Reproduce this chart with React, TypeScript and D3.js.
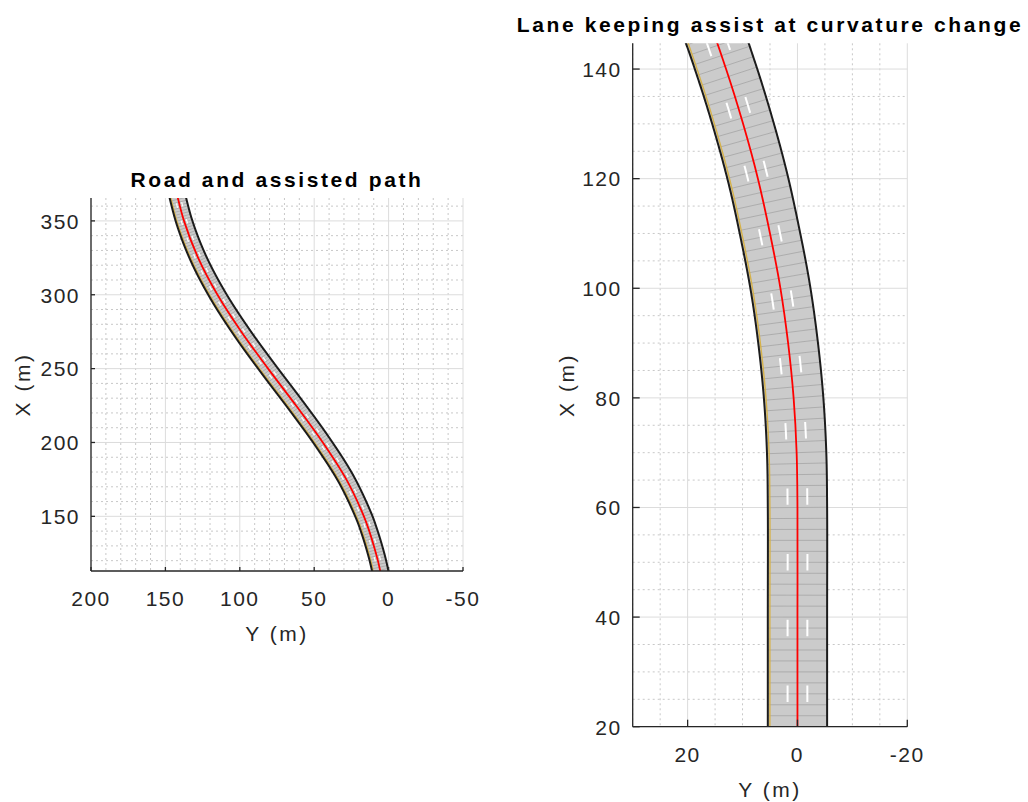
import React, { useEffect, useRef } from "react";
import * as d3 from "d3";

// Road centre line waypoints (X forward, Y left), metres
const roadX = [0, 20, 40, 60, 70, 80, 90, 100, 110, 120, 130, 140, 150, 175, 200, 225, 250, 275, 300, 325, 350, 375];
const roadY = [0, 0, 0, 0, 0.15, 0.7, 1.7, 3.1, 5.0, 7.2, 9.9, 13.0, 16.6, 28.4, 44.2, 62.2, 81.0, 99.0, 115.0, 128.0, 137.5, 143.8];

// Assisted path (red)
const pathX = [0, 20, 40, 60, 70, 80, 90, 100, 110, 120, 130, 140, 150, 175, 200, 225, 250, 275, 300, 325, 350, 375];
const pathY = [0, 0, 0, 0, 0.15, 0.7, 1.7, 3.1, 5.0, 7.2, 9.9, 13.0, 16.6, 28.4, 44.2, 62.2, 81.0, 99.0, 115.0, 128.0, 137.5, 143.8];

// lane geometry (m)
const roadHalfWidth = 5.4;
const laneDividers = [1.8, -1.8];
const dashOn = 3;
const dashPeriod = 12;
const dashStart = 0.5;
const stripeSpacing = 2;

const leftHTicks = [200, 150, 100, 50, 0, -50];
const leftVTicks = [150, 200, 250, 300, 350];
const rightHTicks = [20, 0, -20];
const rightVTicks = [20, 40, 60, 80, 100, 120, 140];

const titles = ["Road and assisted path", "Lane keeping assist at curvature change"];
const hLabel = "Y (m)";
const vLabel = "X (m)";

const FONT = "'Liberation Sans', Arial, Helvetica, sans-serif";

type Pt = { s: number; X: number; Y: number; tX: number; tY: number };

export default function App() {
  const ref = useRef<SVGSVGElement>(null);

  useEffect(() => {
    const svg = d3.select(ref.current!);
    svg.selectAll("*").remove();

    // resample the road centre line (catmull-rom through read waypoints)
    const wp: [number, number][] = roadX.map((x, i) => [x, roadY[i]]);
    const tmp = svg
      .append("path")
      .attr("d", d3.line().curve(d3.curveCatmullRom.alpha(0.5))(wp) as string)
      .attr("fill", "none")
      .attr("visibility", "hidden");
    const node = tmp.node() as SVGPathElement;
    const L = node.getTotalLength();
    const dense: Pt[] = [];
    for (let s = 0; s <= L; s += 0.25) {
      const p = node.getPointAtLength(s);
      dense.push({ s, X: p.x, Y: p.y, tX: 1, tY: 0 });
    }
    tmp.remove();
    dense.forEach((d, i) => {
      const a = dense[Math.max(0, i - 2)];
      const b = dense[Math.min(dense.length - 1, i + 2)];
      const dx = b.X - a.X, dy = b.Y - a.Y;
      const n = Math.hypot(dx, dy) || 1;
      d.tX = dx / n;
      d.tY = dy / n;
    });
    const off = (d: Pt, o: number): [number, number] => [d.X - o * d.tY, d.Y + o * d.tX];

    const panels = [
      {
        id: "p0",
        hDomain: [200, -50], hRange: [91, 463],
        vDomain: [113, 365.5], vRange: [571, 198],
        hTicks: leftHTicks, vTicks: leftVTicks,
        minorStep: 10, tickLen: 4, dashW: 1.2,
        title: titles[0], titleY: 187,
        xLabelX: 23, yellowOff: 0.8,
      },
      {
        id: "p1",
        hDomain: [30, -20], hRange: [632.7, 907.3],
        vDomain: [20, 144.7], vRange: [726.7, 43.3],
        hTicks: rightHTicks, vTicks: rightVTicks,
        minorStep: 5, tickLen: 7, dashW: 2,
        title: titles[1], titleY: 32,
        xLabelX: 567, yellowOff: 0.38,
      },
    ];

    const defs = svg.append("defs");

    panels.forEach((P) => {
      const hs = d3.scaleLinear().domain(P.hDomain).range(P.hRange);
      const vs = d3.scaleLinear().domain(P.vDomain).range(P.vRange);
      const x0 = P.hRange[0], x1 = P.hRange[1], yTop = P.vRange[1], yBot = P.vRange[0];
      const g = svg.append("g");

      defs.append("clipPath").attr("id", "clip" + P.id)
        .append("rect").attr("x", x0).attr("y", yTop).attr("width", x1 - x0).attr("height", yBot - yTop);

      // minor grid
      const hMin = Math.min(...P.hDomain), hMax = Math.max(...P.hDomain);
      const vMin = P.vDomain[0], vMax = P.vDomain[1];
      const hMinor = d3.range(Math.ceil(hMin / P.minorStep) * P.minorStep, hMax + 0.001, P.minorStep)
        .filter((v) => !P.hTicks.includes(v));
      const vMinor = d3.range(Math.ceil(vMin / P.minorStep) * P.minorStep, vMax + 0.001, P.minorStep)
        .filter((v) => !P.vTicks.includes(v));
      const grid = g.append("g");
      grid.selectAll("line.hm").data(hMinor).join("line")
        .attr("x1", (d) => hs(d)).attr("x2", (d) => hs(d)).attr("y1", yTop).attr("y2", yBot)
        .attr("stroke", "#c8c8c8").attr("stroke-width", 1).attr("stroke-dasharray", "2,3");
      grid.selectAll("line.vm").data(vMinor).join("line")
        .attr("y1", (d) => vs(d)).attr("y2", (d) => vs(d)).attr("x1", x0).attr("x2", x1)
        .attr("stroke", "#c8c8c8").attr("stroke-width", 1).attr("stroke-dasharray", "2,3");
      grid.selectAll("line.hM").data(P.hTicks).join("line")
        .attr("x1", (d) => hs(d)).attr("x2", (d) => hs(d)).attr("y1", yTop).attr("y2", yBot)
        .attr("stroke", "#dcdcdc").attr("stroke-width", 1);
      grid.selectAll("line.vM").data(P.vTicks).join("line")
        .attr("y1", (d) => vs(d)).attr("y2", (d) => vs(d)).attr("x1", x0).attr("x2", x1)
        .attr("stroke", "#dcdcdc").attr("stroke-width", 1);

      // road
      const road = g.append("g").attr("clip-path", `url(#clip${P.id})`);
      const lin = d3.line<[number, number]>().x((p) => hs(p[1])).y((p) => vs(p[0]));
      const leftEdge = dense.map((d) => off(d, roadHalfWidth));
      const rightEdge = dense.map((d) => off(d, -roadHalfWidth));
      road.append("path").attr("d", lin([...leftEdge, ...rightEdge.reverse()]) + "Z")
        .attr("fill", "#cbcbcb").attr("stroke", "none");
      const stripes = dense.filter((d) => Math.abs(d.s / stripeSpacing - Math.round(d.s / stripeSpacing)) < 0.01);
      road.selectAll("line.st").data(stripes).join("line")
        .attr("x1", (d) => hs(off(d, roadHalfWidth)[1])).attr("y1", (d) => vs(off(d, roadHalfWidth)[0]))
        .attr("x2", (d) => hs(off(d, -roadHalfWidth)[1])).attr("y2", (d) => vs(off(d, -roadHalfWidth)[0]))
        .attr("stroke", "#a9a9a9").attr("stroke-width", 0.9);
      // lane dashes
      laneDividers.forEach((o) => {
        const segs: [number, number][][] = [];
        let cur: [number, number][] | null = null;
        dense.forEach((d) => {
          const ph = (((d.s - dashStart) % dashPeriod) + dashPeriod) % dashPeriod;
          if (d.s >= dashStart && ph <= dashOn) {
            if (!cur) { cur = []; segs.push(cur); }
            cur.push(off(d, o));
          } else cur = null;
        });
        road.selectAll(null).data(segs).join("path").attr("d", (s) => lin(s))
          .attr("fill", "none").attr("stroke", "#ffffff").attr("stroke-width", P.dashW);
      });
      // yellow boundary marking
      road.append("path").attr("d", lin(dense.map((d) => off(d, roadHalfWidth - P.yellowOff))))
        .attr("fill", "none").attr("stroke", "#d6b24a").attr("stroke-width", 1.4);
      // black edges
      [roadHalfWidth, -roadHalfWidth].forEach((o) => {
        road.append("path").attr("d", lin(dense.map((d) => off(d, o))))
          .attr("fill", "none").attr("stroke", "#1c1c1c").attr("stroke-width", 2);
      });
      // assisted path
      const pp: [number, number][] = pathX.map((x, i) => [x, pathY[i]]);
      const pathLine = d3.line<[number, number]>().x((p) => hs(p[1])).y((p) => vs(p[0]))
        .curve(d3.curveCatmullRom.alpha(0.5));
      road.append("path").attr("d", pathLine(pp))
        .attr("fill", "none").attr("stroke", "#ff0000").attr("stroke-width", 1.8);

      // axes
      const ax = g.append("g").attr("stroke", "#262626").attr("stroke-width", 1.3);
      ax.append("line").attr("x1", x0).attr("x2", x0).attr("y1", yTop).attr("y2", yBot);
      ax.append("line").attr("x1", x0).attr("x2", x1).attr("y1", yBot).attr("y2", yBot);
      ax.selectAll("line.ht").data(P.hTicks).join("line")
        .attr("x1", (d) => hs(d)).attr("x2", (d) => hs(d)).attr("y1", yBot).attr("y2", yBot - P.tickLen);
      ax.selectAll("line.vt").data(P.vTicks).join("line")
        .attr("y1", (d) => vs(d)).attr("y2", (d) => vs(d)).attr("x1", x0).attr("x2", x0 + P.tickLen);

      const txt = g.append("g").attr("font-family", FONT).attr("fill", "#262626");
      txt.selectAll("text.hl").data(P.hTicks).join("text")
        .attr("x", (d) => hs(d)).attr("y", yBot + 35).attr("text-anchor", "middle")
        .attr("font-size", 21).attr("letter-spacing", 1.5).text((d) => String(d));
      txt.selectAll("text.vl").data(P.vTicks).join("text")
        .attr("x", x0 - 11).attr("y", (d) => vs(d) + 7.8).attr("text-anchor", "end")
        .attr("font-size", 21).attr("letter-spacing", 1.5).text((d) => String(d));
      txt.append("text").attr("x", (x0 + x1) / 2).attr("y", yBot + 70).attr("text-anchor", "middle")
        .attr("font-size", 21).attr("letter-spacing", 2.5).text(hLabel);
      txt.append("text")
        .attr("transform", `translate(${P.xLabelX + 7},${(yTop + yBot) / 2}) rotate(-90)`)
        .attr("text-anchor", "middle").attr("font-size", 21).attr("letter-spacing", 2.5).text(vLabel);
      g.append("text").attr("x", (x0 + x1) / 2).attr("y", P.titleY).attr("text-anchor", "middle")
        .attr("font-family", FONT).attr("font-weight", "bold").attr("font-size", 21)
        .attr("letter-spacing", 2.6).attr("fill", "#000").text(P.title);
    });
  }, []);

  return (
    <svg
      ref={ref}
      width={1028}
      height={802}
      style={{ position: "absolute", left: 0, top: 0, background: "#fff" }}
    />
  );
}
